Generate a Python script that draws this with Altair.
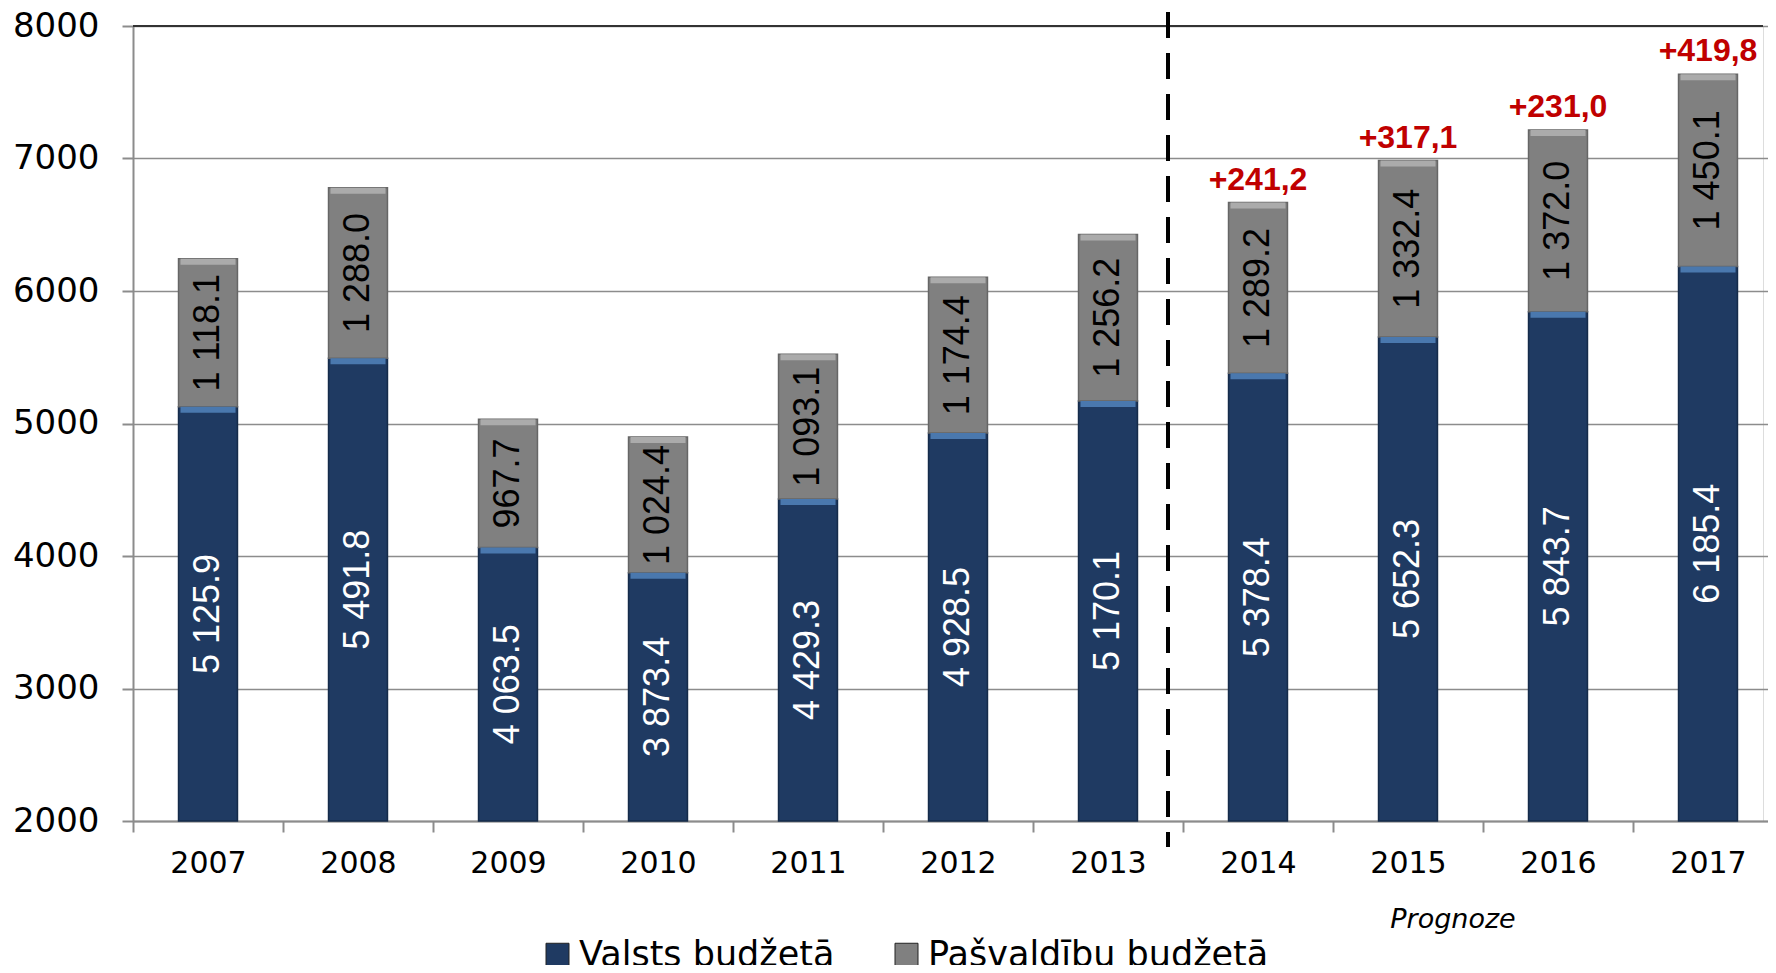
import altair as alt
import pandas as pd

# ---- data ----
years = ["2007", "2008", "2009", "2010", "2011", "2012", "2013", "2014", "2015", "2016", "2017"]
valsts = [5125.9, 5491.8, 4063.5, 3873.4, 4429.3, 4928.5, 5170.1, 5378.4, 5652.3, 5843.7, 6185.4]
pasvaldibu = [1118.1, 1288.0, 967.7, 1024.4, 1093.1, 1174.4, 1256.2, 1289.2, 1332.4, 1372.0, 1450.1]
growth_years = ["2014", "2015", "2016", "2017"]
growth_labels = ["+241,2", "+317,1", "+231,0", "+419,8"]
series = ["Valsts budžetā", "Pašvaldību budžetā"]
series_colors = ["#1F3A62", "#808080"]
top_colors = ["#4A78AE", "#ABABAB"]
edge_colors = ["#152B4A", "#666666"]
text_colors = ["white", "black"]
y_min, y_max = 2000, 8000
y_ticks = [2000, 3000, 4000, 5000, 6000, 7000, 8000]
forecast_start = "2014"
forecast_note_year = "2015"
forecast_note = "Prognoze"


def fmt(v):
    return f"{v:,.1f}".replace(",", " ")


rows = []
for y, a, b in zip(years, valsts, pasvaldibu):
    rows.append(dict(year=y, series=series[0], start=y_min, end=a, mid=(y_min + a) / 2,
                     label=fmt(a), topc=top_colors[0], edgec=edge_colors[0], txtc=text_colors[0]))
    rows.append(dict(year=y, series=series[1], start=a, end=a + b, mid=a + b / 2,
                     label=fmt(b), topc=top_colors[1], edgec=edge_colors[1], txtc=text_colors[1]))
df = pd.DataFrame(rows)

totals = {y: a + b for y, a, b in zip(years, valsts, pasvaldibu)}
gdf = pd.DataFrame({"year": growth_years, "label": growth_labels,
                    "total": [totals[y] for y in growth_years]})
fdf = pd.DataFrame({"year": [forecast_start]})
ndf = pd.DataFrame({"year": [forecast_note_year], "t": [forecast_note]})
topdf = pd.DataFrame({"v": [y_max]})

W, H = 1630, 795
STEP_RANGE = 1650

x_enc = alt.X(
    "year:N",
    scale=alt.Scale(domain=years, paddingInner=0, paddingOuter=0, range=[0, STEP_RANGE]),
    axis=alt.Axis(title=None, labelAngle=0, labelFont="DejaVu Sans", labelFontSize=30,
                  labelColor="black", tickBand="extent", tickSize=11, tickColor="#8C8C8C",
                  tickWidth=2, domainColor="#8C8C8C", domainWidth=2, labelPadding=16,
                  grid=False),
)
y_scale = alt.Scale(domain=[y_min, y_max], nice=False, zero=False)
y_axis = alt.Axis(title=None, values=y_ticks, format="d", labelFont="DejaVu Sans",
                  labelFontSize=34, labelColor="black", labelPadding=23, tickSize=11,
                  tickColor="#8C8C8C", tickWidth=2, domainColor="#8C8C8C", domainWidth=2,
                  gridColor="#8C8C8C", gridWidth=1.5)

base = alt.Chart(df)

bars = base.mark_bar(width={"band": 0.393}, strokeWidth=1.5, opacity=1).encode(
    x=x_enc,
    y=alt.Y("start:Q", scale=y_scale, axis=y_axis),
    y2="end:Q",
    color=alt.Color("series:N", scale=alt.Scale(domain=series, range=series_colors),
                    legend=alt.Legend(title=None, orient="none", legendX=407, legendY=911,
                                      direction="horizontal", symbolType="square",
                                      symbolSize=529, symbolStrokeWidth=1,
                                      symbolStrokeColor="#222222", symbolOpacity=1,
                                      labelFont="DejaVu Sans", labelFontSize=35,
                                      labelColor="black", labelOffset=4,
                                      columnPadding=54, padding=0, labelLimit=400)),
    stroke=alt.Stroke("edgec:N", scale=None),
)

tops = base.mark_tick(thickness=6, size=55, yOffset=3, opacity=1).encode(
    x="year:N",
    y="end:Q",
    color=alt.Color("topc:N", scale=None),
)

labels = base.mark_text(angle=270, font="Liberation Sans", fontSize=36,
                        align="center", baseline="middle").encode(
    x="year:N",
    y="mid:Q",
    text="label:N",
    color=alt.Color("txtc:N", scale=None),
)

growth = alt.Chart(gdf).mark_text(font="Liberation Sans", fontSize=32, fontWeight="bold",
                                  color="#C00000", dy=-13, baseline="alphabetic").encode(
    x="year:N",
    y="total:Q",
    text="label:N",
)

top_line = alt.Chart(topdf).mark_rule(color="#333333", strokeWidth=2).encode(
    y="v:Q",
)

divider = alt.Chart(fdf).mark_rule(color="black", strokeWidth=4, strokeDash=[26, 15],
                                   xOffset=-15).encode(
    x=alt.X("year:N", bandPosition=0),
    y=alt.value(-14),
    y2=alt.value(H + 26),
)

note = alt.Chart(ndf).mark_text(font="DejaVu Sans", fontSize=27, fontStyle="italic",
                                color="black", dx=45, baseline="alphabetic").encode(
    x="year:N",
    y=alt.value(902),
    text="t:N",
)

chart = alt.layer(bars, tops, labels, top_line, divider, growth, note).properties(
    width=W, height=H,
    autosize=alt.AutoSizeParams(type="none"),
    padding={"left": 125, "top": 18, "right": 5, "bottom": 144},
).configure_view(stroke=None).configure(background="white")

chart.save("out.html", embed_options={"renderer": "svg", "actions": False})
